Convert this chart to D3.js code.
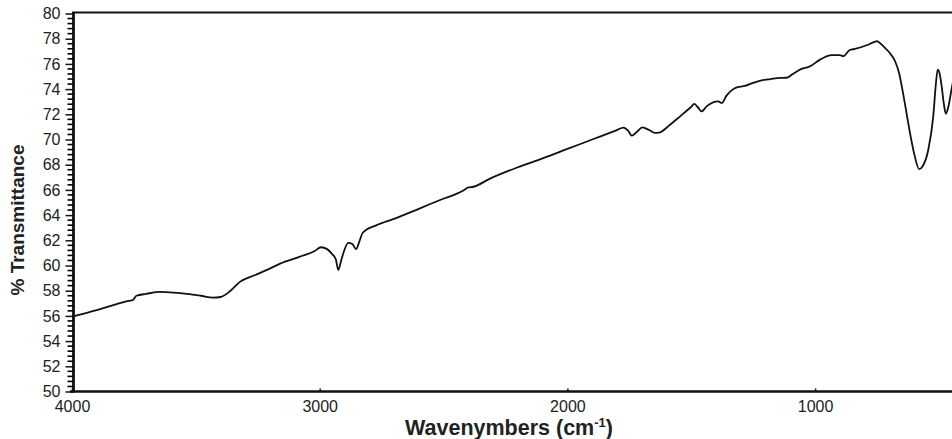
<!DOCTYPE html>
<html>
<head>
<meta charset="utf-8">
<script src="https://cdn.jsdelivr.net/npm/d3@7"></script>
<style>
  body { margin: 0; background: #fff; }
  svg { display: block; }
  .tick text { font-family: "Liberation Sans", Arial, sans-serif; }
</style>
</head>
<body>
<svg id="chart" width="952" height="439"></svg>
<script>
// wavenumbers (cm-1)
const wavenumbers = [
  4000, 3960, 3900, 3850, 3800, 3770, 3755, 3740, 3700, 3645,
  3590, 3536, 3480, 3431, 3400, 3360, 3322, 3260, 3213, 3160,
  3080, 3020, 2995, 2970, 2952, 2935, 2925, 2912, 2885, 2868,
  2853, 2840, 2826, 2770, 2700, 2600, 2514, 2420, 2400, 2380,
  2312, 2200, 2100, 2000, 1900, 1800, 1774, 1755, 1740, 1720,
  1697, 1670, 1646, 1626, 1590, 1545, 1500, 1488, 1475, 1458,
  1438, 1391, 1377, 1357, 1337, 1316, 1283, 1250, 1216, 1180,
  1142, 1115, 1090, 1061, 1020, 980, 933, 900, 886, 860,
  839, 792, 760, 751, 735, 718, 700, 677, 660, 650,
  630, 617, 598, 580, 565, 543, 523, 512, 505, 497,
  489, 480, 472, 462, 447, 430
];
// % transmittance
const transmittance = [
  55.95, 56.15, 56.45, 56.75, 57.05, 57.2, 57.25, 57.6, 57.75, 57.9,
  57.85, 57.75, 57.6, 57.45, 57.5, 58.0, 58.7, 59.25, 59.65, 60.15,
  60.7, 61.15, 61.45, 61.3, 60.95, 60.5, 59.65, 60.5, 61.8, 61.7,
  61.3, 61.9, 62.6, 63.2, 63.7, 64.5, 65.2, 65.95, 66.2, 66.25,
  66.9, 67.8, 68.5, 69.25, 70.0, 70.75, 70.95, 70.7, 70.3, 70.6,
  70.96, 70.75, 70.52, 70.57, 71.1, 71.84, 72.6, 72.82, 72.6, 72.23,
  72.63, 73.03, 72.9, 73.5, 73.9, 74.14, 74.25, 74.5, 74.7, 74.8,
  74.89, 74.9, 75.2, 75.55, 75.81, 76.34, 76.69, 76.7, 76.61, 77.1,
  77.19, 77.48, 77.75, 77.8, 77.6, 77.27, 76.9, 76.21, 75.2, 74.22,
  72.0, 70.52, 68.7, 67.65, 67.9, 69.19, 71.84, 74.5, 75.55, 75.2,
  74.22, 72.8, 72.05, 72.6, 74.22, 75.5
];
const xTicks = [4000, 3000, 2000, 1000];
const yTicks = d3.range(50, 81, 2);
// minor ticks, 4 between each labelled one
const yMinor = d3.range(0, 75).map(i => 50 + i * 0.4).filter((v, i) => i % 5 != 0);

const svg = d3.select("#chart");
const font = '"Liberation Sans", Arial, sans-serif';

const x = d3.scaleLinear()
    .domain([4000, 400])
    .range([72, 72 + 3.6 * 247.7]);

const y = d3.scaleLinear()
    .domain([50, 80])
    .range([391.5, 13.5]);

const data = wavenumbers.map((w, i) => ({ w: w, t: transmittance[i] }));

// spectrum
svg.append("path")
    .datum(data)
    .attr("fill", "none")
    .attr("stroke", "#111")
    .attr("stroke-width", 1.8)
    .attr("stroke-linejoin", "round")
    .attr("d", d3.line()
        .curve(d3.curveMonotoneX)
        .x(d => x(d.w))
        .y(d => y(d.t)));

// frame
svg.append("line")
    .attr("x1", 70).attr("x2", 952)
    .attr("y1", y(50)).attr("y2", y(50))
    .attr("stroke", "#111").attr("stroke-width", 2.5);
svg.append("line")
    .attr("x1", 73.5).attr("x2", 73.5)
    .attr("y1", y(80) - 1.5).attr("y2", y(50) + 1)
    .attr("stroke", "#111").attr("stroke-width", 2.8);
svg.append("line")
    .attr("x1", 72).attr("x2", 952)
    .attr("y1", y(80) - 1).attr("y2", y(80) - 1)
    .attr("stroke", "#111").attr("stroke-width", 2);

// minor y ticks
svg.append("g")
    .attr("class", "minor")
    .selectAll("line")
    .data(yMinor)
    .join("line")
    .attr("x1", 67.5)
    .attr("x2", 73)
    .attr("y1", d => y(d))
    .attr("y2", d => y(d))
    .attr("stroke", "#000")
    .attr("stroke-width", 1.6);

// major y ticks
svg.append("g")
    .attr("transform", "translate(73.5,0)")
    .call(d3.axisLeft(y).tickValues(yTicks).tickSize(8).tickPadding(5))
    .call(g => g.select(".domain").remove())
    .call(g => g.selectAll("line").attr("stroke", "#111").attr("stroke-width", 1.5))
    .call(g => g.selectAll("text").attr("font-size", 16).attr("fill", "#222"));

// x axis
svg.append("g")
    .attr("transform", `translate(0,${y(50)})`)
    .call(d3.axisBottom(x).tickValues(xTicks).tickSize(-3).tickPadding(9).tickFormat(d3.format("d")))
    .call(g => g.select(".domain").remove())
    .call(g => g.selectAll("line").attr("stroke", "#111").attr("stroke-width", 1.5))
    .call(g => g.selectAll("text").attr("font-size", 16).attr("fill", "#222"));

// axis titles
svg.append("text")
    .attr("transform", `translate(24,220) rotate(-90)`)
    .attr("text-anchor", "middle")
    .attr("font-family", font)
    .attr("font-weight", "bold")
    .attr("font-size", 19)
    .attr("fill", "#222")
    .text("% Transmittance");

const xt = svg.append("text")
    .attr("x", 509)
    .attr("y", 435)
    .attr("text-anchor", "middle")
    .attr("font-family", font)
    .attr("font-weight", "bold")
    .attr("font-size", 21.5)
    .attr("fill", "#222");
xt.append("tspan").text("Wavenymbers (cm");
xt.append("tspan").attr("font-size", 13).attr("dy", -8).text("-1");
xt.append("tspan").attr("dy", 8).text(")");
</script>
</body>
</html>
